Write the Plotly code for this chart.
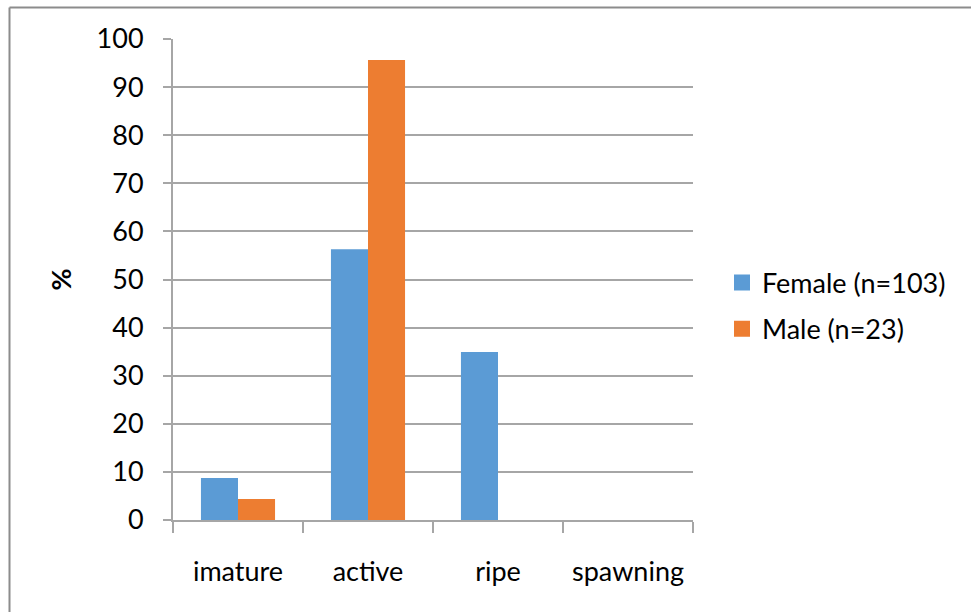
import plotly.graph_objects as go

# Maturity stage distribution by sex (%)
stages = ["imature", "active", "ripe", "spawning"]
female_pct = [8.74, 56.31, 34.95, 0.0]
male_pct = [4.35, 95.65, 0.0, 0.0]
series_names = ["Female (n=103)", "Male (n=23)"]
series_colors = ["#5b9bd5", "#ed7d31"]
y_ticks = [0, 10, 20, 30, 40, 50, 60, 70, 80, 90, 100]

FONT = "Lato, Calibri, 'Open Sans', sans-serif"
FS = 27
GRID = "#a6a6a6"

W, H = 971, 612
L, R, T, B = 173, 278, 39, 92
pw, ph = W - L - R, H - T - B

fig = go.Figure()
for name, vals, col in zip(series_names, [female_pct, male_pct], series_colors):
    fig.add_trace(go.Bar(x=stages, y=vals, name=name, showlegend=False,
                         marker=dict(color=col, line=dict(width=0))))

# square legend keys
for i, (name, col) in enumerate(zip(series_names, series_colors)):
    fig.add_trace(go.Scatter(x=[None], y=[None], mode="markers", name=name,
                             legendgroup=f"g{i}",
                             marker=dict(symbol="square", size=16, color=col)))


def px_x(p):
    return (p - L) / pw


def px_y(p):
    return (H - B - p) / ph


# outer chart frame (left and top edges)
fig.add_shape(type="line", xref="paper", yref="paper",
              x0=px_x(9.5), x1=px_x(W + 5), y0=px_y(7.5), y1=px_y(7.5),
              line=dict(color="#8c8c8c", width=2))
fig.add_shape(type="line", xref="paper", yref="paper",
              x0=px_x(9.5), x1=px_x(9.5), y0=px_y(7.5), y1=px_y(H + 5),
              line=dict(color="#8c8c8c", width=2))

fig.update_layout(
    width=W, height=H,
    margin=dict(l=L, r=R, t=T, b=B, autoexpand=False),
    paper_bgcolor="white", plot_bgcolor="white",
    barmode="group", bargap=0.43, bargroupgap=0,
    font=dict(family=FONT, size=FS, color="black"),
    showlegend=True,
    legend=dict(x=px_x(722), xanchor="left", y=px_y(306), yanchor="middle",
                font=dict(family=FONT, size=FS, color="black"),
                bgcolor="rgba(0,0,0,0)", tracegroupgap=8,
                itemwidth=30),
    xaxis=dict(
        type="category", showgrid=False,
        showline=True, linecolor=GRID, linewidth=2,
        ticks="outside", tickson="boundaries", ticklen=11,
        tickcolor=GRID, tickwidth=2,
        tickfont=dict(family=FONT, size=FS),
        ticklabelstandoff=27,
    ),
    yaxis=dict(
        range=[0, 100], tickvals=y_ticks,
        showgrid=True, gridcolor=GRID, gridwidth=2,
        showline=True, linecolor=GRID, linewidth=2,
        ticks="outside", ticklen=8, tickcolor=GRID, tickwidth=2,
        tickfont=dict(family=FONT, size=FS),
        ticklabelstandoff=14,
        zeroline=False,
        title=dict(text="<b>%</b>", font=dict(family=FONT, size=FS), standoff=17),
    ),
)

fig.write_html("out.html")
